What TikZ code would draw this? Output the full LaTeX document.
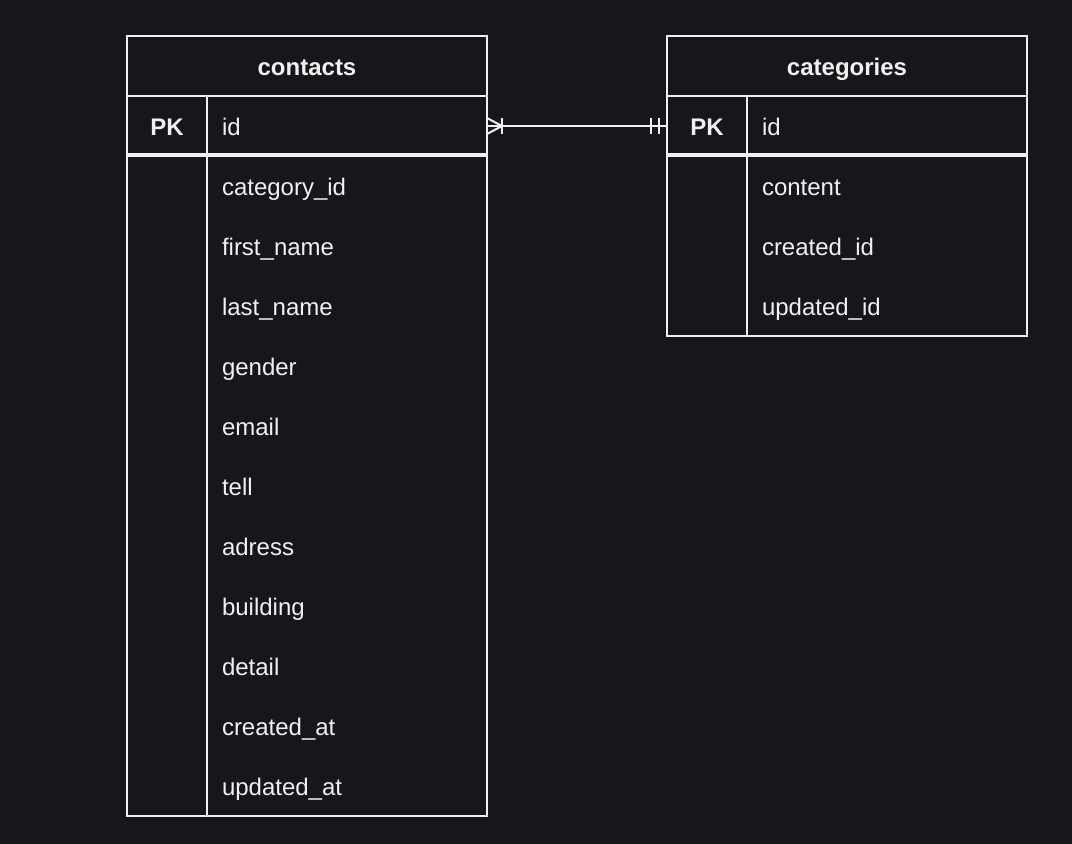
\documentclass[tikz,border=0pt]{standalone}
\usepackage{fontspec}
\setmainfont{Liberation Sans}
\usetikzlibrary{positioning,calc}
\definecolor{background}{RGB}{24,22,27}
\colorlet{penColor}{white!94!black}
\tikzset{
  frame/.style={draw=penColor, line width=2pt},
  txt/.style={inner sep=0pt, outer sep=0pt, text height=22pt, text depth=4pt,
    font=\fontsize{24}{28}\selectfont, text=penColor},
  field/.style={txt, anchor=west, text width=250pt, inner xsep=15pt, minimum height=60pt},
  tablehead/.style={txt, font=\fontsize{24}{28}\selectfont\bfseries},
  keycell/.style={tablehead, minimum width=80pt, minimum height=60pt}
}

\begin{document}
\begin{tikzpicture}[x=1pt,y=-1pt]
  \fill[background] (0,0) rectangle (1072,844);
  \useasboundingbox (0,0) rectangle (1072,844);
  % contacts table
  \draw[frame] (127,36) rectangle (487,816);
  \draw[frame] (127,96) -- (487,96);
  \draw[frame] (207,96) -- (207,816);
  \draw[frame, line width=4pt] (127,155) -- (487,155);
  \node[tablehead] (conhead) at (307,66) {contacts};
  \node[keycell] (conpk) at (167,126) {PK};
  \node[field] (conid) at (207,126) {id};
  \foreach \f [count=\i] in {category\_id, first\_name, last\_name, gender, email, tell, adress, building, detail, created\_at, updated\_at}
    \node[field] (con\i) at (207,126+60*\i) {\f};
  % categories table
  \draw[frame] (667,36) rectangle (1027,336);
  \draw[frame] (667,96) -- (1027,96);
  \draw[frame] (747,96) -- (747,336);
  \draw[frame, line width=4pt] (667,155) -- (1027,155);
  \node[tablehead] (cathead) at (847,66) {categories};
  \node[keycell] (catpk) at (707,126) {PK};
  \node[field] (catid) at (747,126) {id};
  \foreach \f [count=\i] in {content, created\_id, updated\_id}
    \node[field] (cat\i) at (747,126+60*\i) {\f};
  % relation: many contacts to one category
  \draw[frame] (conid.east) -- (catpk.west);
  \draw[frame] ([yshift=8pt]conid.east) -- ([xshift=15pt]conid.east) -- ([yshift=-8pt]conid.east);
  \draw[frame] ([xshift=15pt,yshift=8pt]conid.east) -- ([xshift=15pt,yshift=-8pt]conid.east);
  \draw[frame] ([xshift=-16pt,yshift=8pt]catpk.west) -- ([xshift=-16pt,yshift=-8pt]catpk.west);
  \draw[frame] ([xshift=-8pt,yshift=8pt]catpk.west) -- ([xshift=-8pt,yshift=-8pt]catpk.west);
\end{tikzpicture}
\end{document}
